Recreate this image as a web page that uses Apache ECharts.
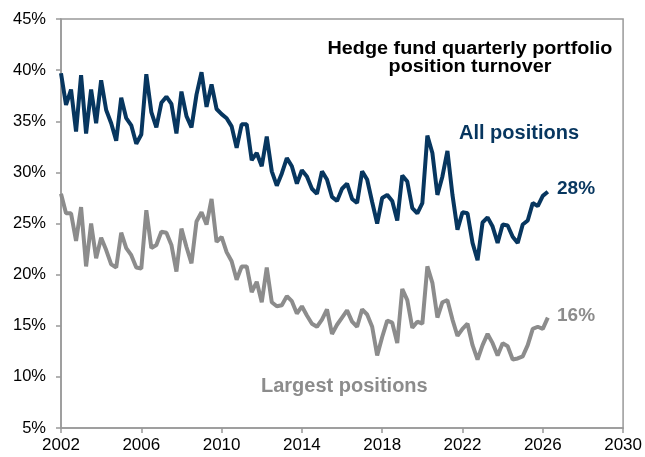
<!DOCTYPE html>
<html>
<head>
<meta charset="utf-8">
<script src="https://cdn.jsdelivr.net/npm/echarts@6/dist/echarts.min.js"></script>
<style>
html,body{margin:0;padding:0;background:#fff;}
#chart{width:645px;height:457px;}
</style>
</head>
<body>
<div id="chart"></div>
<script>
// Quarterly observations starting 2002 Q1
var startYear = 2002;
var xTicks = [2002, 2006, 2010, 2014, 2018, 2022, 2026, 2030];
var yTicks = [5, 10, 15, 20, 25, 30, 35, 40, 45];

var allPositions = [
  39.7, 36.6, 38.1, 34.0, 39.5, 33.8, 38.1, 34.8, 39.0, 36.1, 34.8, 33.1,
  37.3, 35.3, 34.6, 32.8, 33.7, 39.6, 35.9, 34.4, 36.8, 37.4, 36.7, 33.8,
  37.9, 35.5, 34.4, 37.6, 39.8, 36.4, 38.6, 36.2, 35.7, 35.3, 34.5, 32.4,
  34.7, 34.7, 31.2, 31.9, 30.6, 33.5, 30.1, 28.7, 29.9, 31.4, 30.6, 28.9,
  30.2, 29.6, 28.4, 27.9, 30.1, 29.3, 27.6, 27.2, 28.4, 28.9, 27.4, 27.0,
  30.1, 29.3, 27.1, 25.0, 27.5, 27.8, 27.2, 25.3, 29.7, 29.1, 26.5, 26.0,
  27.0, 33.6, 31.9, 27.8, 29.6, 32.1, 27.8, 24.4, 26.1, 26.0, 23.1, 21.4,
  25.1, 25.6, 24.7, 23.1, 24.9, 24.8, 23.7, 23.1, 24.9, 25.3, 27.0, 26.7,
  27.7, 28.1
];

var largestPositions = [
  27.9, 26.0, 26.0, 23.3, 26.6, 20.8, 25.0, 21.6, 23.6, 22.4, 21.0, 20.7,
  24.1, 22.6, 21.9, 20.7, 20.6, 26.3, 22.6, 22.9, 24.2, 24.1, 22.9, 20.3,
  24.5, 22.7, 21.1, 25.2, 26.1, 24.9, 27.4, 23.2, 23.7, 22.2, 21.3, 19.5,
  20.8, 20.8, 18.3, 19.3, 17.3, 20.7, 17.3, 16.9, 17.0, 17.9, 17.4, 16.2,
  16.9, 16.0, 15.2, 14.9, 15.6, 16.6, 14.2, 15.1, 15.8, 16.5, 15.4, 14.9,
  16.6, 16.1, 14.9, 12.1, 13.9, 15.5, 15.3, 13.3, 18.6, 17.5, 14.8, 15.4,
  15.2, 20.8, 19.2, 15.8, 17.3, 17.5, 15.6, 14.0, 14.7, 15.2, 13.1, 11.7,
  13.1, 14.2, 13.3, 12.1, 13.3, 13.0, 11.7, 11.8, 12.0, 13.1, 14.7, 14.9,
  14.7, 15.8
];

var seriesNames = ['All positions', 'Largest positions'];
var endLabels = ['28%', '16%'];
var titleLines = ['Hedge fund quarterly portfolio', 'position turnover'];

function toPairs(arr) {
  return arr.map(function (v, i) { return [i * 0.25, v]; });
}

var navy = '#07365f';
var grey = '#8c8c8c';
var axisGrey = '#999999';
var font = 'Liberation Sans, Arial, sans-serif';

var chart = echarts.init(document.getElementById('chart'), null, {renderer: 'canvas'});
chart.setOption({
  animation: false,
  backgroundColor: '#ffffff',
  grid: {
    left: 61, right: 20, top: 19, bottom: 29,
    show: true, borderColor: axisGrey, borderWidth: 1.5, backgroundColor: 'transparent'
  },
  xAxis: {
    type: 'value',
    min: 0, max: xTicks[xTicks.length - 1] - startYear, interval: 4,
    axisLine: {show: true, onZero: false, lineStyle: {color: axisGrey, width: 1.5}},
    axisTick: {show: true, length: 5, lineStyle: {color: axisGrey, width: 1.5}},
    splitLine: {show: false},
    axisLabel: {
      color: '#000', fontSize: 17, fontFamily: font, margin: 9,
      formatter: function (v) { return String(v + startYear); }
    }
  },
  yAxis: {
    type: 'value',
    min: yTicks[0], max: yTicks[yTicks.length - 1], interval: 5,
    axisLine: {show: true, lineStyle: {color: axisGrey, width: 1.5}},
    axisTick: {show: true, length: 5, lineStyle: {color: axisGrey, width: 1.5}},
    splitLine: {show: false},
    axisLabel: {
      color: '#000', fontSize: 16.5, fontFamily: font, margin: 15,
      formatter: function (v) { return v + '%'; }
    }
  },
  series: [
    {
      name: seriesNames[0], type: 'line', data: toPairs(allPositions),
      symbol: 'none', lineStyle: {color: navy, width: 4}, z: 3
    },
    {
      name: seriesNames[1], type: 'line', data: toPairs(largestPositions),
      symbol: 'none', lineStyle: {color: grey, width: 4}, z: 2
    }
  ],
  graphic: [
    {type: 'text', x: 470, y: 49, scaleX: 1.1, style: {text: titleLines[0], font: 'bold 18px ' + font, fill: '#000', align: 'center', verticalAlign: 'middle'}},
    {type: 'text', x: 470, y: 67, scaleX: 1.1, style: {text: titleLines[1], font: 'bold 18px ' + font, fill: '#000', align: 'center', verticalAlign: 'middle'}},
    {type: 'text', x: 459, y: 133, style: {text: seriesNames[0], font: 'bold 20px ' + font, fill: navy, align: 'left', verticalAlign: 'middle'}},
    {type: 'text', x: 261, y: 386, style: {text: seriesNames[1], font: 'bold 20px ' + font, fill: grey, align: 'left', verticalAlign: 'middle'}},
    {type: 'text', x: 557, y: 189, style: {text: endLabels[0], font: 'bold 19px ' + font, fill: navy, align: 'left', verticalAlign: 'middle'}},
    {type: 'text', x: 557, y: 316, style: {text: endLabels[1], font: 'bold 19px ' + font, fill: grey, align: 'left', verticalAlign: 'middle'}}
  ]
});
</script>
</body>
</html>
